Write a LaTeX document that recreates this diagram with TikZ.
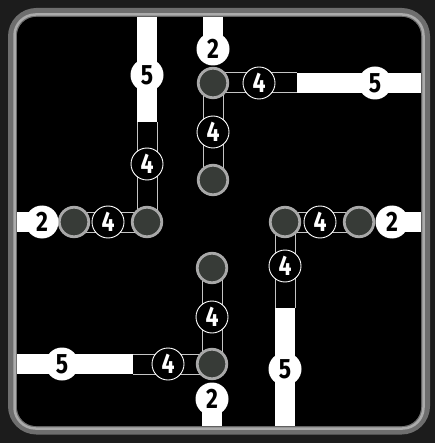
\documentclass[tikz,border=0pt]{standalone}
\usepackage{fontspec}
\setmainfont{Fira Sans}
\newfontfamily\numfont[FakeStretch=0.82]{Fira Sans}
\pgfdeclarelayer{framelayer}
\pgfdeclarelayer{chanlayer}
\pgfsetlayers{framelayer,chanlayer,main}
\definecolor{outerbg}{HTML}{1C1C1C}
\definecolor{rimdark}{HTML}{6E6E6E}
\definecolor{rimlight}{HTML}{ABABAB}
\definecolor{hubfill}{HTML}{373B37}
\definecolor{hubring}{HTML}{A8A8A8}
\definecolor{chanline}{HTML}{C4C4C4}
\tikzset{
  hub/.style={circle, minimum size=29.5pt, inner sep=0pt, fill=hubfill, draw=hubring, line width=2.8pt},
  whitenum/.style={circle, minimum size=33pt, inner sep=0pt, fill=white, text=black,
    font=\numfont\bfseries\fontsize{28}{28}\selectfont},
  blacknum/.style={circle, minimum size=32pt, inner sep=0pt, fill=black, draw=white, line width=0.9pt,
    text=white, font=\numfont\bfseries\fontsize{28}{28}\selectfont},
  chanout/.style={line width=21pt, draw=chanline},
  chanin/.style={line width=19pt, draw=black},
  whitebar/.style={line width=20pt, draw=white}
}
\begin{document}
\begin{tikzpicture}[x=1pt, y=-1pt]
\useasboundingbox (0,0) rectangle (435,443);
% frame
\begin{pgfonlayer}{framelayer}
\fill[outerbg] (0,0) rectangle (435,443);
\draw[rimdark, line width=9pt, rounded corners=24pt] (12.5,12.5) rectangle (425.5,430);
\draw[rimlight, line width=2.5pt, rounded corners=21pt] (14.5,14.5) rectangle (423.5,428.5);
\fill[black, rounded corners=19pt] (17,17) rectangle (421,426);
\end{pgfonlayer}

% top-left group
\node[hub] (J1) at (147,222) {};
\node[hub] (N1) at (74,222) {};
\node[blacknum] (L4a) at (108,222) {4};
\node[whitenum] (L2) at (42,222) {2};
\node[blacknum] (L4b) at (147,164) {4};
\node[whitenum] (L5) at (147,75) {5};
\coordinate (lEnd) at (17,222);
\coordinate (tlJoin) at (147,122);
\coordinate (tlEnd) at (147,17);

% top group
\node[hub] (T1) at (213,83) {};
\node[hub] (T2) at (213,180) {};
\node[blacknum] (T4a) at (213,132) {4};
\node[whitenum] (T2lab) at (213,49) {2};
\node[blacknum] (T4b) at (259,83) {4};
\node[whitenum] (T5) at (375,83) {5};
\coordinate (tEnd) at (213,17);
\coordinate (trJoin) at (297,83);
\coordinate (trEnd) at (421,83);

% right group
\node[hub] (J2) at (285,222) {};
\node[hub] (N2) at (359,222) {};
\node[blacknum] (R4a) at (320,222) {4};
\node[whitenum] (R2) at (392,222) {2};
\node[blacknum] (R4b) at (285,266) {4};
\node[whitenum] (R5) at (285,369) {5};
\coordinate (rEnd) at (421,222);
\coordinate (rdJoin) at (285,308);
\coordinate (rdEnd) at (285,426);

% bottom group
\node[hub] (B1) at (212,268) {};
\node[hub] (B2) at (212,364) {};
\node[blacknum] (B4a) at (212,317) {4};
\node[whitenum] (B2lab) at (212,399) {2};
\node[blacknum] (B4b) at (168,364) {4};
\node[whitenum] (B5) at (62,364) {5};
\coordinate (bEnd) at (212,426);
\coordinate (blJoin) at (133,364);
\coordinate (blEnd) at (17,364);

\begin{pgfonlayer}{chanlayer}
% channels (outlined black)
\foreach \a/\b in {J1/N1, J1/tlJoin, T1/T2, T1/trJoin, J2/N2, J2/rdJoin, B1/B2, B2/blJoin}{
  \draw[chanout] (\a.center) -- (\b.center);
}
\foreach \a/\b in {J1/N1, J1/tlJoin, T1/T2, T1/trJoin, J2/N2, J2/rdJoin, B1/B2, B2/blJoin}{
  \draw[chanin] (\a.center) -- (\b.center);
}
% white bars
\draw[whitebar] (lEnd) -- (L2.center);
\draw[whitebar] (tlEnd) -- (tlJoin);
\draw[whitebar] (tEnd) -- (T2lab.center);
\draw[whitebar] (trJoin) -- (trEnd);
\draw[whitebar] (R2.center) -- (rEnd);
\draw[whitebar] (rdJoin) -- (rdEnd);
\draw[whitebar] (B2lab.center) -- (bEnd);
\draw[whitebar] (blJoin) -- (blEnd);
\end{pgfonlayer}
\end{tikzpicture}
\end{document}
